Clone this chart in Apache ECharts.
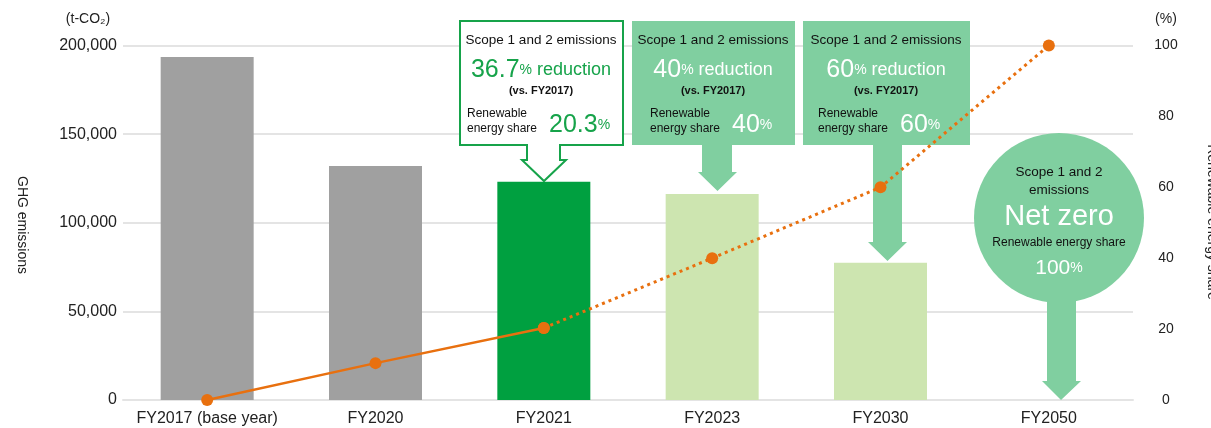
<!DOCTYPE html>
<html>
<head>
<meta charset="utf-8">
<script src="https://cdn.jsdelivr.net/npm/echarts@6/dist/echarts.min.js"></script>
<style>
  html, body { margin: 0; padding: 0; background: #fff; }
  #chart { width: 1211px; height: 428px; }
</style>
</head>
<body>
<div id="chart"></div>
<script>
// 資料
const categories = ['FY2017 (base year)', 'FY2020', 'FY2021', 'FY2023', 'FY2030', 'FY2050'];
const emissions = [193500, 132000, 123200, 116200, 77500, null];
const shareActual = [0, 10.4, 20.3, null, null, null];
const shareTarget = [null, null, 20.3, 40, 60, 100];
const emissionTicks = [0, 50000, 100000, 150000, 200000];
const shareTicks = [0, 20, 40, 60, 80, 100];

const FONT = 'Liberation Sans, Arial, sans-serif';
const GREEN = '#16a34a';
const MINT = '#80cfa0';
const ORANGE = '#e8700f';
const barColors = ['#a0a0a0', '#a0a0a0', '#00a040', '#cde5b0', '#cde5b0', '#cde5b0'];

const chart = echarts.init(document.getElementById('chart'));

// 框內文字樣式
const rich = {
  h: { fontSize: 13.5, fontFamily: FONT, fill: '#111' },
  bg: { fontSize: 25, fontFamily: FONT, fill: GREEN },
  bw: { fontSize: 25, fontFamily: FONT, fill: '#fff' },
  pg: { fontSize: 14, fontFamily: FONT, fill: GREEN },
  pw: { fontSize: 14, fontFamily: FONT, fill: '#fff' },
  rg: { fontSize: 18, fontFamily: FONT, fill: GREEN },
  rw: { fontSize: 18, fontFamily: FONT, fill: '#fff' },
  nw: { fontSize: 21, fontFamily: FONT, fill: '#fff' },
  vs: { fontSize: 11, fontFamily: FONT, fill: '#111', fontWeight: 'bold' },
  s: { fontSize: 12, fontFamily: FONT, fill: '#111', lineHeight: 15 }
};

function text(x, y, t, align) {
  return {
    type: 'text', x: x, y: y, z: 3,
    style: { text: t, rich: rich, align: align || 'center', verticalAlign: 'middle', font: '13px ' + FONT }
  };
}

function callout(left, right, stemL, stemR, headL, headR, headY, tipY, fill, stroke) {
  const cx = (headL + headR) / 2;
  return {
    type: 'polygon', z: 1,
    shape: {
      points: [[left, 21], [right, 21], [right, 145], [stemR, 145], [stemR, headY], [headR, headY],
        [cx, tipY], [headL, headY], [stemL, headY], [stemL, 145], [left, 145]]
    },
    style: { fill: fill, stroke: stroke, lineWidth: stroke ? 2 : 0 }
  };
}

function boxTexts(cx, left, num, pct, numKey, pKey, rKey) {
  return [
    text(cx, 40, '{h|Scope 1 and 2 emissions}'),
    text(cx, 70, '{' + numKey + '|' + num + '}{' + pKey + '|%}{' + rKey + '| reduction}'),
    text(cx, 91, '{vs|(vs. FY2017)}'),
    text(left, 121, '{s|Renewable}\n{s|energy share}', 'left'),
    text(left + 82, 125, '{' + numKey + '|' + pct + '}{' + pKey + '|%}', 'left')
  ];
}

const graphics = [
  callout(460, 623, 527, 560, 522, 566, 160, 181, '#fff', GREEN),
  callout(632, 795, 702, 732, 698, 737, 172, 191, MINT, null),
  callout(803, 970, 873, 902, 868, 907, 242, 261, MINT, null),
  { type: 'circle', z: 1, shape: { cx: 1059, cy: 218, r: 85 }, style: { fill: MINT } },
  {
    type: 'polygon', z: 1,
    shape: { points: [[1047, 290], [1076, 290], [1076, 381], [1081, 381], [1061, 400], [1042, 381], [1047, 381]] },
    style: { fill: MINT }
  },
  ...boxTexts(541, 467, '36.7', '20.3', 'bg', 'pg', 'rg'),
  ...boxTexts(713, 650, '40', '40', 'bw', 'pw', 'rw'),
  ...boxTexts(886, 818, '60', '60', 'bw', 'pw', 'rw'),
  text(1059, 172, '{h|Scope 1 and 2}'),
  text(1059, 190, '{h|emissions}'),
  { type: 'text', x: 1059, y: 217, z: 3, style: { text: 'Net zero', fill: '#fff', font: '29px ' + FONT, align: 'center', verticalAlign: 'middle' } },
  text(1059, 243, '{s|Renewable energy share}'),
  text(1059, 268, '{nw|100}{pw|%}'),
  // 座標軸名稱
  { type: 'text', x: 88, y: 19, style: { text: '(t-CO₂)', font: '14px ' + FONT, fill: '#222', align: 'center', verticalAlign: 'middle' } },
  { type: 'text', x: 1166, y: 19, style: { text: '(%)', font: '14px ' + FONT, fill: '#222', align: 'center', verticalAlign: 'middle' } },
  { type: 'text', x: 22, y: 225, rotation: -Math.PI / 2, style: { text: 'GHG emissions', font: '14px ' + FONT, fill: '#222', align: 'center', verticalAlign: 'middle' } },
  { type: 'text', x: 1212, y: 222, rotation: -Math.PI / 2, style: { text: 'Renewable energy share', font: '14px ' + FONT, fill: '#222', align: 'center', verticalAlign: 'middle' } }
];

const option = {
  animation: false,
  grid: { left: 123, right: 78, top: 45.5, bottom: 28 },
  xAxis: {
    type: 'category',
    data: categories,
    axisTick: { show: false },
    axisLine: { show: true, lineStyle: { color: '#e4e4e4', width: 2 } },
    axisLabel: { color: '#222', fontSize: 16, fontFamily: FONT, margin: 11, interval: 0 }
  },
  yAxis: [
    {
      type: 'value', min: 0, max: emissionTicks[emissionTicks.length - 1], interval: emissionTicks[1] - emissionTicks[0],
      axisLine: { show: false }, axisTick: { show: false },
      axisLabel: { color: '#222', fontSize: 16, fontFamily: FONT, margin: 6, formatter: v => v.toLocaleString('en-US') },
      splitLine: { lineStyle: { color: '#e4e4e4', width: 2 } }
    },
    {
      type: 'value', min: 0, max: shareTicks[shareTicks.length - 1], interval: shareTicks[1] - shareTicks[0],
      axisLine: { show: false }, axisTick: { show: false }, splitLine: { show: false },
      axisLabel: { color: '#222', fontSize: 14, fontFamily: FONT, margin: 33, align: 'center' }
    }
  ],
  series: [
    {
      type: 'bar', data: emissions, barWidth: 93, z: 2,
      itemStyle: { color: p => barColors[p.dataIndex] }
    },
    {
      type: 'line', yAxisIndex: 1, data: shareActual, z: 5,
      symbol: 'circle', symbolSize: 12, itemStyle: { color: ORANGE },
      lineStyle: { color: ORANGE, width: 2.5 }
    },
    {
      type: 'line', yAxisIndex: 1, data: shareTarget, z: 5,
      symbol: 'circle', symbolSize: 12, itemStyle: { color: ORANGE },
      lineStyle: { color: ORANGE, width: 3, type: [3, 4] }
    }
  ],
  graphic: graphics
};

chart.setOption(option);
</script>
</body>
</html>
